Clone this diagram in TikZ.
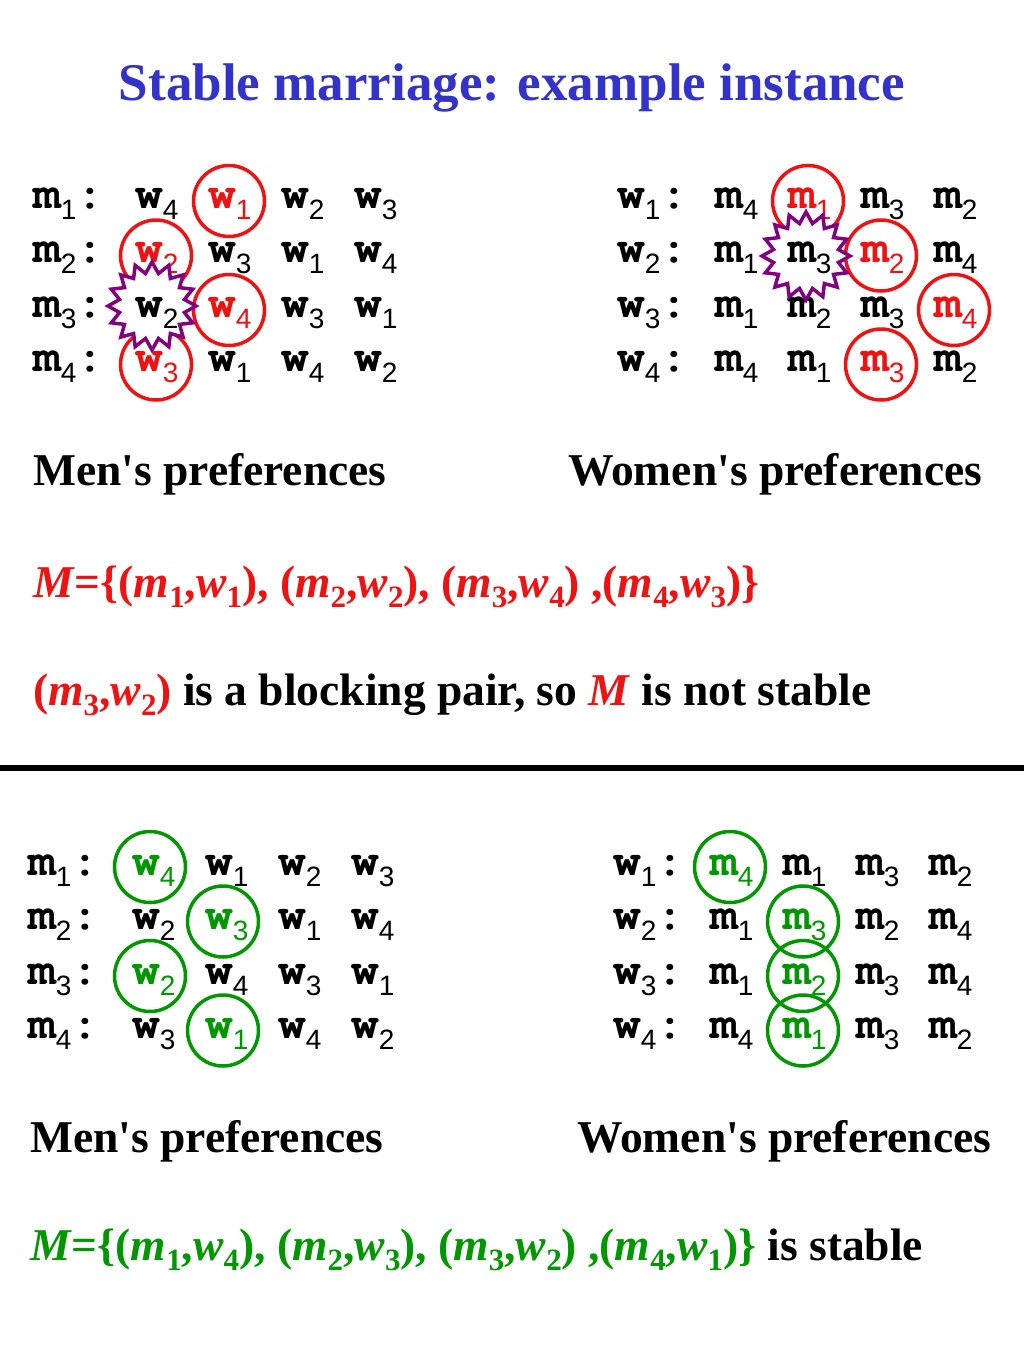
\documentclass[tikz,border=0pt]{standalone}
\usepackage{fontspec}
\setmainfont{Liberation Serif}
\newfontfamily\cour{texgyrecursor}[Extension=.otf, UprightFont=*-bold, BoldFont=*-bold]
\newfontfamily\subfnt{Liberation Sans}
\usetikzlibrary{shapes.geometric}
\definecolor{tblue}{RGB}{51,51,204}
\definecolor{myred}{RGB}{238,18,18}
\definecolor{mygreen}{RGB}{0,150,0}
\definecolor{mypurple}{RGB}{128,0,128}
\newcommand\gsub[1]{\raisebox{-11pt}{\subfnt\fontsize{28}{28}\selectfont #1}}
\newcommand\tsub[1]{\raisebox{-10pt}{\fontsize{31}{31}\selectfont #1}}
\newcommand\iv[1]{\textit{#1}}
\newcommand\prefgrid[5]{%
  \foreach \row [count=\r] in {#5} {
    \foreach \L/\S/\C [count=\c] in \row {
      \pgfmathsetmacro\xx{\c==1 ? #2 : #3 + (\c-2)*73}
      \pgfmathsetmacro\yy{#4 + (\r-1)*54.5}
      \edef\tmpc{\C}\def\skp{skip}%
      \ifx\tmpc\skp\else
        \node[tok,text=\C] (#1-\r-\c) at (\xx,\yy) {\L\gsub{\S}\ifnum\c=1 :\fi};
      \fi
    }
  }
}
\tikzset{
  tok/.style={anchor=base west, inner sep=0pt, font=\cour\fontsize{46}{46}\selectfont},
  body/.style={anchor=base west, inner sep=0pt, font=\bfseries\fontsize{45.5}{45.5}\selectfont},
  rring/.style={circle, draw=myred, line width=3.5pt, minimum size=71pt, inner sep=0pt},
  gring/.style={circle, draw=mygreen, line width=3.5pt, minimum size=71pt, inner sep=0pt},
  burst/.style={star, star points=16, star point ratio=1.33, minimum size=88pt, inner sep=0pt,
     draw=mypurple, fill=white, line width=3.5pt},
}
\begin{document}
\begin{tikzpicture}[x=1pt,y=-1pt]
\useasboundingbox[fill=white] (0,0) rectangle (1024,1365);

\node[anchor=base, inner sep=0pt, text=tblue, font=\bfseries\fontsize{53}{53}\selectfont] (title) at (512,100) {Stable marriage: example instance};

% ---------- top left grid
\prefgrid{tl}{33}{135}{208}{
  {m/1/black, w/4/black, w/1/myred, w/2/black, w/3/black},
  {m/2/black, w/2/myred, w/3/black, w/1/black, w/4/black},
  {m/3/black, w/2/skip, w/4/myred, w/3/black, w/1/black},
  {m/4/black, w/3/myred, w/1/black, w/4/black, w/2/black}}
\node[rring] (tlc1) at ([shift={(21,-7)}]tl-1-3.base west) {};
\node[rring] (tlc2) at ([shift={(21,-7)}]tl-2-2.base west) {};
\node[rring] (tlc3) at ([shift={(21,-7)}]tl-3-3.base west) {};
\node[rring] (tlc4) at ([shift={(21,-7)}]tl-4-2.base west) {};
\node[burst] (tlstar) at (152,306) {};
\node[tok] (tl-3-2) at (135,317) {w\gsub{2}};

% ---------- top right grid
\prefgrid{tr}{617}{715}{208}{
  {w/1/black, m/4/black, m/1/myred, m/3/black, m/2/black},
  {w/2/black, m/1/black, m/3/skip, m/2/myred, m/4/black},
  {w/3/black, m/1/black, m/2/black, m/3/black, m/4/myred},
  {w/4/black, m/4/black, m/1/black, m/3/myred, m/2/black}}
\node[rring] (trc1) at ([shift={(20,-7)}]tr-1-3.base west) {};
\node[rring] (trc2) at ([shift={(20,-7)}]tr-2-4.base west) {};
\node[rring] (trc3) at ([shift={(20,-7)}]tr-3-5.base west) {};
\node[rring] (trc4) at ([shift={(20,-7)}]tr-4-4.base west) {};
\node[burst] (trstar) at (806,256) {};
\node[tok] (tr-2-2) at (788,262.5) {m\gsub{3}};

\node[body] (men1) at (33,485) {Men\textquotesingle s preferences};
\node[body] (wom1) at (568,485) {Women\textquotesingle s preferences};

\node[body, text=myred] (match1) at (33,597)
  {\iv{M}=\{(\iv{m}\tsub{1},\iv{w}\tsub{1}), (\iv{m}\tsub{2},\iv{w}\tsub{2}), (\iv{m}\tsub{3},\iv{w}\tsub{4}) ,(\iv{m}\tsub{4},\iv{w}\tsub{3})\}};
\node[body] (block) at (33,705)
  {\textcolor{myred}{(\iv{m}\tsub{3},\iv{w}\tsub{2})} is a blocking pair, so \textcolor{myred}{\iv{M}} is not stable};

\coordinate (ruleL) at (0,768);
\coordinate (ruleR) at (1024,768);
\draw[line width=6pt] (ruleL) -- (ruleR);

% ---------- bottom left grid
\prefgrid{bl}{28}{132}{875}{
  {m/1/black, w/4/mygreen, w/1/black, w/2/black, w/3/black},
  {m/2/black, w/2/black, w/3/mygreen, w/1/black, w/4/black},
  {m/3/black, w/2/mygreen, w/4/black, w/3/black, w/1/black},
  {m/4/black, w/3/black, w/1/mygreen, w/4/black, w/2/black}}
\node[gring] (blc1) at ([shift={(18,-8)}]bl-1-2.base west) {};
\node[gring] (blc2) at ([shift={(18,-8)}]bl-2-3.base west) {};
\node[gring] (blc3) at ([shift={(18,-8)}]bl-3-2.base west) {};
\node[gring] (blc4) at ([shift={(18,-8)}]bl-4-3.base west) {};

% ---------- bottom right grid
\prefgrid{br}{613}{710}{875}{
  {w/1/black, m/4/mygreen, m/1/black, m/3/black, m/2/black},
  {w/2/black, m/1/black, m/3/mygreen, m/2/black, m/4/black},
  {w/3/black, m/1/black, m/2/mygreen, m/3/black, m/4/black},
  {w/4/black, m/4/black, m/1/mygreen, m/3/black, m/2/black}}
\node[gring] (brc1) at ([shift={(20,-8)}]br-1-2.base west) {};
\node[gring] (brc2) at ([shift={(20,-8)}]br-2-3.base west) {};
\node[gring] (brc3) at ([shift={(20,-8)}]br-3-3.base west) {};
\node[gring] (brc4) at ([shift={(20,-8)}]br-4-3.base west) {};

\node[body] (men2) at (30,1152) {Men\textquotesingle s preferences};
\node[body] (wom2) at (577,1152) {Women\textquotesingle s preferences};

\node[body] (match2) at (30,1260)
  {\textcolor{mygreen}{\iv{M}=\{(\iv{m}\tsub{1},\iv{w}\tsub{4}), (\iv{m}\tsub{2},\iv{w}\tsub{3}), (\iv{m}\tsub{3},\iv{w}\tsub{2}) ,(\iv{m}\tsub{4},\iv{w}\tsub{1})\}} is stable};
\end{tikzpicture}
\end{document}
